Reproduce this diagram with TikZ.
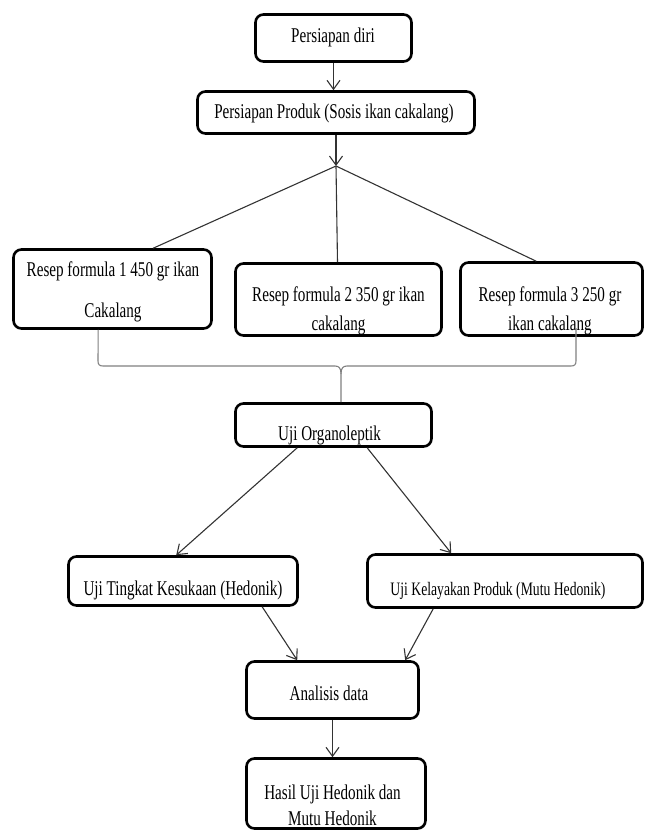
\documentclass[tikz,border=0pt]{standalone}
\usepackage{fontspec}
\setmainfont{Liberation Serif}[FakeStretch=0.72]
\usetikzlibrary{arrows.meta}

\tikzset{
  box/.style={draw, line width=2.6pt, rounded corners=8pt, inner sep=0pt},
  lbl/.style={font=\fontsize{21}{29}\selectfont, align=center, inner sep=0pt},
  link/.style={draw=black!80, line width=1.1pt},
  arr/.style={link, -{Straight Barb[length=9pt,width=13pt,line width=1.1pt]}},
  brace/.style={draw=black!50, line width=1.1pt},
}

\begin{document}
\begin{tikzpicture}[x=1pt,y=-1pt]
        \useasboundingbox (0,0) rectangle (646,830);

        \node[box, minimum width=156pt, minimum height=47pt] (diri) at (333.5,38) {};
        \node[box, minimum width=277pt, minimum height=42pt] (produk) at (336,112.5) {};
        \node[box, minimum width=198pt, minimum height=79pt] (f1) at (112.5,289) {};
        \node[box, minimum width=206pt, minimum height=72pt] (f2) at (338.5,299.5) {};
        \node[box, minimum width=182pt, minimum height=73pt] (f3) at (551.5,299) {};
        \node[box, minimum width=196pt, minimum height=43pt] (org) at (333.5,425) {};
        \node[box, minimum width=229pt, minimum height=49pt] (ting) at (183,581) {};
        \node[box, minimum width=275pt, minimum height=53pt] (layak) at (505,581) {};
        \node[box, minimum width=172pt, minimum height=57pt] (anal) at (332.5,690) {};
        \node[box, minimum width=179pt, minimum height=70pt] (hasil) at (336,793.5) {};

        \node[lbl] (diriT) at (333,37) {Persiapan diri};
        \node[lbl] (produkT) at (334,113) {Persiapan Produk (Sosis ikan cakalang)};
        \node[lbl, font=\fontsize{21}{41}\selectfont] (f1T) at (113,292) {Resep formula 1 450 gr ikan\\Cakalang};
        \node[lbl] (f2T) at (338.5,311) {Resep formula 2 350 gr ikan\\cakalang};
        \node[lbl] (f3T) at (550,311) {Resep formula 3 250 gr\\ikan cakalang};
        \node[lbl] (orgT) at (329.5,435) {Uji Organoleptik};
        \node[lbl] (tingT) at (183,590) {Uji Tingkat Kesukaan (Hedonik)};
        \node[lbl, font=\fontsize{19}{26}\selectfont] (layakT) at (498,591) {Uji Kelayakan Produk (Mutu Hedonik)};
        \node[lbl] (analT) at (329,693) {Analisis data};
        \node[lbl, font=\fontsize{21}{26}\selectfont] (hasilT) at (332.5,805) {Hasil Uji Hedonik dan\\Mutu Hedonik};

        \coordinate (fan) at (336,166);
        \coordinate (brL) at ([xshift=86pt]f1.south west);
        \coordinate (brR) at (576,328);
        \coordinate (brM) at (341,366);

        \draw[arr] (diri.south) -- (diri.south |- produk.north);
        \draw[arr] (produk.south) -- (fan);
        \draw[link] (fan) -- ([xshift=141pt]f1.north west);
        \draw[link] (fan) -- ([xshift=-1pt]f2.north);
        \draw[link] (fan) -- ([xshift=77pt]f3.north west);

        \draw[brace] (brL) -- (98,361) .. controls (98,364.5) and (99.5,366) .. (103,366)
                -- (335,366) .. controls (339,366) and (341,368) .. (341,374)
                -- (brM |- org.north);
        \draw[brace] (brR) -- (576,361) .. controls (576,364.5) and (574.5,366) .. (571,366)
                -- (347,366) .. controls (343,366) and (341,368) .. (341,374);

        \draw[arr] ([xshift=63pt]org.south west) -- ([xshift=109pt]ting.north west);
        \draw[arr] ([xshift=133pt]org.south west) -- ([xshift=85pt]layak.north west);
        \draw[arr] ([xshift=195pt]ting.south west) -- ([xshift=52pt]anal.north west);
        \draw[arr] ([xshift=67pt]layak.south west) -- ([xshift=160pt]anal.north west);
        \draw[arr] (anal.south) -- (anal.south |- hasil.north);
    \end{tikzpicture}
\end{document}
